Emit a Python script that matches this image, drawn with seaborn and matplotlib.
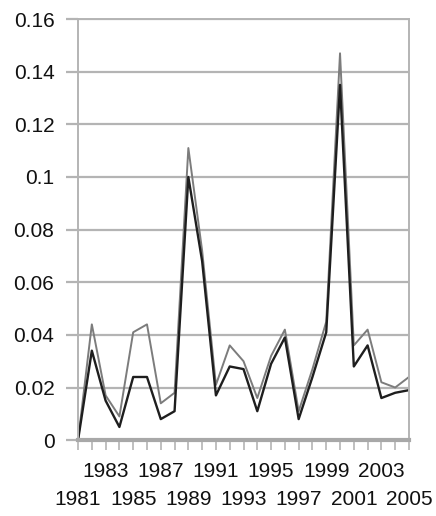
import numpy as np
import pandas as pd
import matplotlib
matplotlib.use("Agg")
import matplotlib.pyplot as plt
import matplotlib.ticker as mticker
import seaborn as sns

years = list(range(1981, 2006))
series_a = [0.000, 0.044, 0.017, 0.009, 0.041, 0.044, 0.014, 0.018, 0.111, 0.072,
            0.021, 0.036, 0.030, 0.016, 0.032, 0.042, 0.011, 0.027, 0.045, 0.147,
            0.036, 0.042, 0.022, 0.020, 0.024]
series_b = [0.000, 0.034, 0.015, 0.005, 0.024, 0.024, 0.008, 0.011, 0.100, 0.068,
            0.017, 0.028, 0.027, 0.011, 0.029, 0.039, 0.008, 0.024, 0.041, 0.135,
            0.028, 0.036, 0.016, 0.018, 0.019]
upper_years = list(range(1983, 2006, 4))
lower_years = list(range(1981, 2006, 4))

df = pd.DataFrame({
    "year": years * 2,
    "value": series_a + series_b,
    "series": ["a"] * len(years) + ["b"] * len(years),
})

sns.set_style("white")
plt.rcParams["font.family"] = ["Liberation Sans", "DejaVu Sans"]

fig = plt.figure(figsize=(4.36, 5.16), dpi=100)
ax = fig.add_axes([0.179, 0.147, 0.759, 0.816])

sns.lineplot(data=df, x="year", y="value", hue="series",
             palette={"a": "#7c7c7c", "b": "#1e1e1e"}, linewidth=1.4,
             legend=False, ax=ax)
ax.lines[1].set_linewidth(1.7)

grid_c = "#b4b4b4"
ax.set_xlim(1981, 2005)
ax.set_ylim(0, 0.16)
ax.set_yticks(np.arange(0, 0.161, 0.02))
ax.yaxis.set_major_formatter(mticker.FuncFormatter(lambda v, p: f"{round(v, 2):g}"))
ax.yaxis.grid(True, color=grid_c, linewidth=1.6)
ax.set_axisbelow(True)

# upper row of year labels on major ticks, lower row on minor ticks
minor_years = [y for y in years if y not in upper_years]
ax.set_xticks(upper_years)
ax.set_xticklabels([str(y) for y in upper_years])
ax.set_xticks(minor_years, minor=True)
ax.set_xticklabels([str(y) if y in lower_years else "" for y in minor_years], minor=True)

ax.tick_params(axis="y", length=9, width=1.6, color=grid_c, labelsize=15, pad=8,
               left=True, labelcolor="#111111")
ax.tick_params(axis="x", which="both", length=7, width=1.2, color=grid_c,
               labelsize=15, bottom=True, labelcolor="#111111")
ax.tick_params(axis="x", which="major", pad=9)
ax.tick_params(axis="x", which="minor", pad=29)

for side in ["left", "right", "top"]:
    ax.spines[side].set_color(grid_c)
    ax.spines[side].set_linewidth(1.4)
ax.spines["bottom"].set_color("#a8a8a8")
ax.spines["bottom"].set_linewidth(3)

ax.set_xlabel("")
ax.set_ylabel("")

fig.savefig("out.png", dpi=100)
